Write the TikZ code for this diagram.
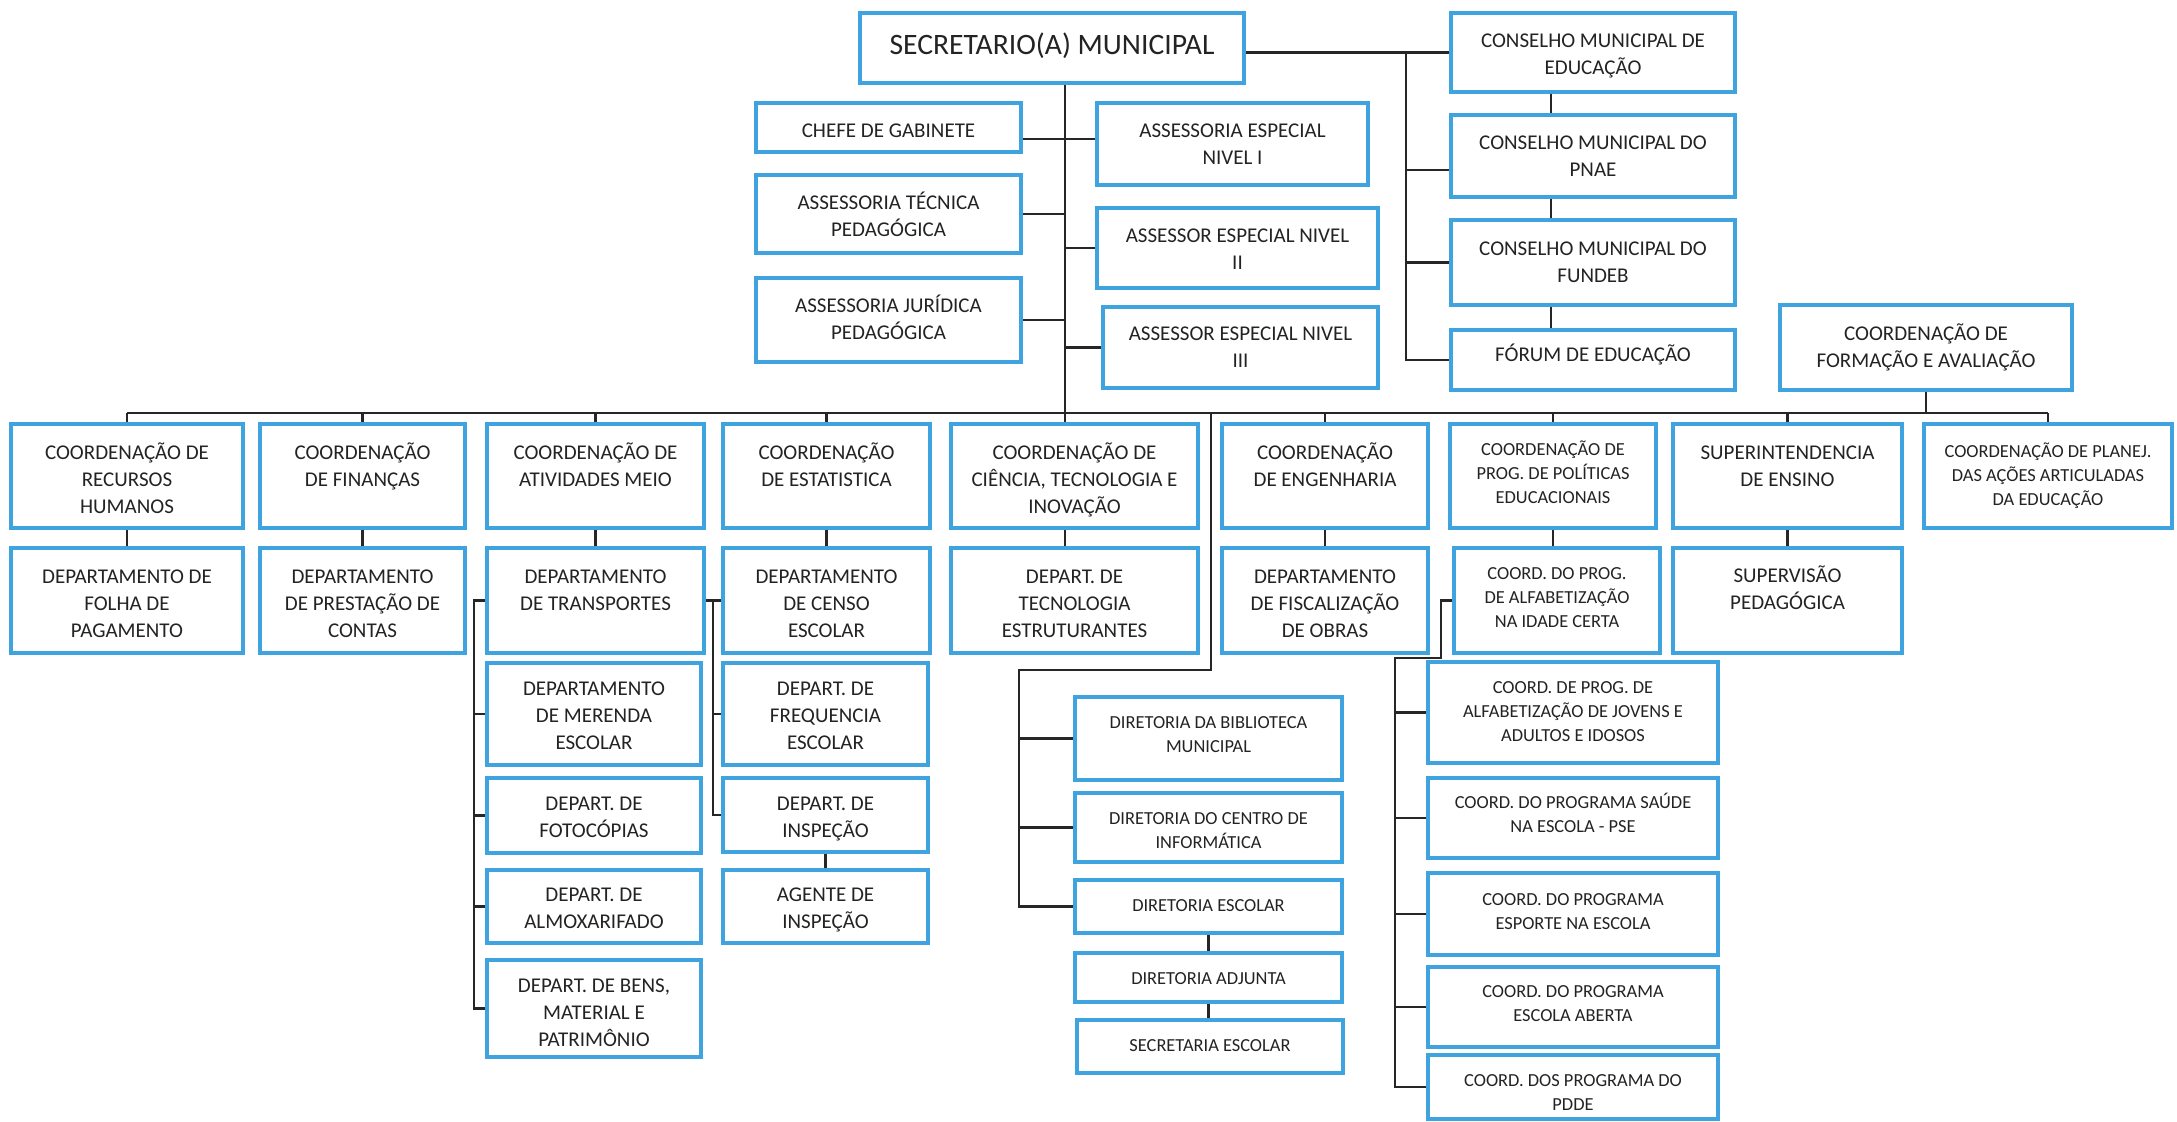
\documentclass[tikz,border=0pt]{standalone}
\usepackage{fontspec}
\setmainfont{Carlito}
\definecolor{boxblue}{HTML}{3FA3E0}
\definecolor{lineclr}{HTML}{262626}
\definecolor{txt}{HTML}{232323}
% #1 style, #2 baseline pad (px), #3 name, #4 x1, #5 y1, #6 x2, #7 y2, #8 text
\newcommand\ob[8]{%
  \node[box,#1] (#3) at ({(#4+#6)/2},{(#5+#7)/2})
  {\begin{minipage}[c][\dimexpr #7pt/2-#5pt/2\relax][t]{\dimexpr #6pt/2-#4pt/2\relax}\centering\rule{0pt}{\dimexpr #2pt/2\relax}#8\end{minipage}};}
\begin{document}
\begin{tikzpicture}[x=0.5pt,y=-0.5pt,
  box/.style={draw=boxblue,line width=2.1pt,inner sep=0pt,fill=white,text=txt},
  nrm/.style={font=\fontsize{10.5}{13.5}\selectfont},
  sml/.style={font=\fontsize{9.2}{12.2}\selectfont},
  big/.style={font=\fontsize{14.8}{17}\selectfont},
  conn/.style={draw=lineclr,line width=1.1pt}]
\useasboundingbox[fill=white] (0,0) rectangle (2177,1121);

% top level
\ob{big}{41}{sec}{860}{13}{1244}{83}{SECRETARIO(A) MUNICIPAL}
\ob{nrm}{34}{chefe}{756}{103}{1021}{152}{CHEFE DE GABINETE}
\ob{nrm}{34}{nivA}{1097}{103}{1368}{185}{ASSESSORIA ESPECIAL\\NIVEL I}
\ob{nrm}{34}{tecnica}{756}{175}{1021}{253}{ASSESSORIA TÉCNICA\\PEDAGÓGICA}
\ob{nrm}{34}{nivB}{1097}{208}{1378}{288}{ASSESSOR ESPECIAL NIVEL\\II}
\ob{nrm}{34}{juridica}{756}{278}{1021}{362}{ASSESSORIA JURÍDICA\\PEDAGÓGICA}
\ob{nrm}{33}{nivC}{1103}{307}{1378}{388}{ASSESSOR ESPECIAL NIVEL\\III}
\ob{nrm}{34}{cedu}{1451}{13}{1735}{92}{CONSELHO MUNICIPAL DE\\EDUCAÇÃO}
\ob{nrm}{34}{cpnae}{1451}{115}{1735}{197}{CONSELHO MUNICIPAL DO\\PNAE}
\ob{nrm}{35}{cfundeb}{1451}{220}{1735}{305}{CONSELHO MUNICIPAL DO\\FUNDEB}
\ob{nrm}{31}{forum}{1451}{330}{1735}{390}{FÓRUM DE EDUCAÇÃO}
\ob{nrm}{35}{formacao}{1780}{305}{2072}{390}{COORDENAÇÃO DE\\FORMAÇÃO E AVALIAÇÃO}

% row 1
\ob{nrm}{35}{rh}{11}{424}{243}{528}{COORDENAÇÃO DE\\RECURSOS\\HUMANOS}
\ob{nrm}{35}{fin}{260}{424}{465}{528}{COORDENAÇÃO\\DE FINANÇAS}
\ob{nrm}{35}{ativ}{487}{424}{704}{528}{COORDENAÇÃO DE\\ATIVIDADES MEIO}
\ob{nrm}{35}{estat}{723}{424}{930}{528}{COORDENAÇÃO\\DE ESTATISTICA}
\ob{nrm}{35}{cien}{951}{424}{1198}{528}{COORDENAÇÃO DE\\CIÊNCIA, TECNOLOGIA E\\INOVAÇÃO}
\ob{nrm}{35}{eng}{1222}{424}{1428}{528}{COORDENAÇÃO\\DE ENGENHARIA}
\ob{sml}{31}{polit}{1450}{424}{1656}{528}{COORDENAÇÃO DE\\PROG. DE POLÍTICAS\\EDUCACIONAIS}
\ob{nrm}{35}{super}{1673}{424}{1902}{528}{SUPERINTENDENCIA\\DE ENSINO}
\ob{sml}{33}{planej}{1924}{424}{2172}{528}{COORDENAÇÃO DE PLANEJ.\\DAS AÇÕES ARTICULADAS\\DA EDUCAÇÃO}

% row 2
\ob{nrm}{35}{folha}{11}{548}{243}{653}{DEPARTAMENTO DE\\FOLHA DE\\PAGAMENTO}
\ob{nrm}{35}{prest}{260}{548}{465}{653}{DEPARTAMENTO\\DE PRESTAÇÃO DE\\CONTAS}
\ob{nrm}{35}{transp}{487}{548}{704}{653}{DEPARTAMENTO\\DE TRANSPORTES}
\ob{nrm}{35}{censo}{723}{548}{930}{653}{DEPARTAMENTO\\DE CENSO\\ESCOLAR}
\ob{nrm}{35}{tecno}{951}{548}{1198}{653}{DEPART. DE\\TECNOLOGIA\\ESTRUTURANTES}
\ob{nrm}{35}{fiscal}{1222}{548}{1428}{653}{DEPARTAMENTO\\DE FISCALIZAÇÃO\\DE OBRAS}
\ob{sml}{31}{alfab}{1454}{548}{1660}{653}{COORD. DO PROG.\\DE ALFABETIZAÇÃO\\NA IDADE CERTA}
\ob{nrm}{34}{supervisao}{1673}{548}{1902}{653}{SUPERVISÃO\\PEDAGÓGICA}

% under transportes
\ob{nrm}{32}{merenda}{487}{663}{701}{765}{DEPARTAMENTO\\DE MERENDA\\ESCOLAR}
\ob{nrm}{32}{fotoc}{487}{778}{701}{853}{DEPART. DE\\FOTOCÓPIAS}
\ob{nrm}{31}{almox}{487}{870}{701}{943}{DEPART. DE\\ALMOXARIFADO}
\ob{nrm}{32}{bens}{487}{960}{701}{1057}{DEPART. DE BENS,\\MATERIAL E\\PATRIMÔNIO}

% under censo
\ob{nrm}{32}{freq}{723}{663}{928}{765}{DEPART. DE\\FREQUENCIA\\ESCOLAR}
\ob{nrm}{32}{insp}{723}{778}{928}{852}{DEPART. DE\\INSPEÇÃO}
\ob{nrm}{31}{agente}{723}{870}{928}{943}{AGENTE DE\\INSPEÇÃO}

% diretorias
\ob{sml}{31}{bib}{1075}{697}{1342}{780}{DIRETORIA DA BIBLIOTECA\\MUNICIPAL}
\ob{sml}{31}{centro}{1075}{793}{1342}{862}{DIRETORIA DO CENTRO DE\\INFORMÁTICA}
\ob{sml}{31}{escolar}{1075}{880}{1342}{933}{DIRETORIA ESCOLAR}
\ob{sml}{31}{adjunta}{1075}{953}{1342}{1002}{DIRETORIA ADJUNTA}
\ob{sml}{31}{secesc}{1077}{1020}{1343}{1073}{SECRETARIA ESCOLAR}

% programas
\ob{sml}{31}{jovens}{1428}{662}{1718}{763}{COORD. DE PROG. DE\\ALFABETIZAÇÃO DE JOVENS E\\ADULTOS E IDOSOS}
\ob{sml}{30}{saude}{1428}{778}{1718}{858}{COORD. DO PROGRAMA SAÚDE\\NA ESCOLA - PSE}
\ob{sml}{32}{esporte}{1428}{873}{1718}{955}{COORD. DO PROGRAMA\\ESPORTE NA ESCOLA}
\ob{sml}{30}{aberta}{1428}{967}{1718}{1047}{COORD. DO PROGRAMA\\ESCOLA ABERTA}
\ob{sml}{31}{pdde}{1428}{1055}{1718}{1119}{COORD. DOS PROGRAMA DO\\PDDE}

% helper coordinates
\coordinate (busY) at (0,413);
\coordinate (trk) at (1065,0);
\coordinate (cv) at (1406,0);
\coordinate (cx) at (1551,0);
\coordinate (yA) at (0,139);
\coordinate (tv) at (474,0);
\coordinate (cvx) at (713,0);
\coordinate (dtop) at (1211,413);
\coordinate (dmid) at (1211,670);
\coordinate (dx) at (1019,0);
\coordinate (ax1) at (1441,0);
\coordinate (ay) at (0,658);
\coordinate (ax2) at (1395,0);

% trunk and bus
\draw[conn] (sec.south -| trk) -- (cien.north -| trk);
\draw[conn] (rh.north |- busY) -- (planej.north |- busY);
\foreach \n in {rh,fin,ativ,estat,eng,polit,super,planej}
  \draw[conn] (\n.north) -- (\n.north |- busY);
\draw[conn] (formacao.south) -- (formacao.south |- busY);

% assessorias
\draw[conn] (chefe.east |- yA) -- (nivA.west |- yA);
\draw[conn] (tecnica.east) -- (tecnica.east -| trk);
\draw[conn] (nivB.west) -- (nivB.west -| trk);
\draw[conn] (juridica.east) -- (juridica.east -| trk);
\draw[conn] (nivC.west) -- (nivC.west -| trk);

% conselhos
\draw[conn] (sec.east |- cedu.west) -- (cedu.west);
\draw[conn] (cv |- cedu.west) -- (cv |- forum.west) -- (forum.west);
\draw[conn] ([yshift=-7pt]cv |- cpnae.west) -- ([yshift=-7pt]cpnae.west);
\draw[conn] (cv |- cfundeb.west) -- (cfundeb.west);
\draw[conn] (cedu.south -| cx) -- (cpnae.north -| cx);
\draw[conn] (cpnae.south -| cx) -- (cfundeb.north -| cx);
\draw[conn] (cfundeb.south -| cx) -- (forum.north -| cx);

% row 1 to row 2
\draw[conn] (rh.south) -- (folha.north);
\draw[conn] (fin.south) -- (prest.north);
\draw[conn] (ativ.south) -- (transp.north);
\draw[conn] (estat.south) -- (censo.north);
\draw[conn] (cien.south -| trk) -- (tecno.north -| trk);
\draw[conn] (eng.south) -- (fiscal.north);
\draw[conn] (polit.south) -- (polit.south |- alfab.north);
\draw[conn] (super.south) -- (supervisao.north);

% transportes group
\draw[conn] (transp.west) -- (transp.west -| tv) -- (bens.west -| tv) -- (bens.west);
\foreach \n in {merenda,fotoc,almox}
  \draw[conn] (\n.west -| tv) -- (\n.west);

% censo group
\draw[conn] (transp.east) -- (censo.west);
\draw[conn] (censo.west -| cvx) -- (insp.west -| cvx) -- (insp.west);
\draw[conn] (freq.west -| cvx) -- (freq.west);
\draw[conn] (insp.south) -- (agente.north);

% diretorias
\draw[conn] (dtop) -- (dmid) -- (dmid -| dx) -- (escolar.west -| dx) -- (escolar.west);
\draw[conn] (bib.west -| dx) -- (bib.west);
\draw[conn] (centro.west -| dx) -- (centro.west);
\draw[conn] (escolar.south) -- (adjunta.north);
\draw[conn] (adjunta.south) -- (adjunta.south |- secesc.north);

% programas
\draw[conn] (alfab.west) -- (alfab.west -| ax1) -- (ax1 |- ay) -- (ax2 |- ay) -- (pdde.west -| ax2) -- (pdde.west);
\foreach \n in {jovens,saude,esporte,aberta}
  \draw[conn] (\n.west -| ax2) -- (\n.west);
\end{tikzpicture}
\end{document}
